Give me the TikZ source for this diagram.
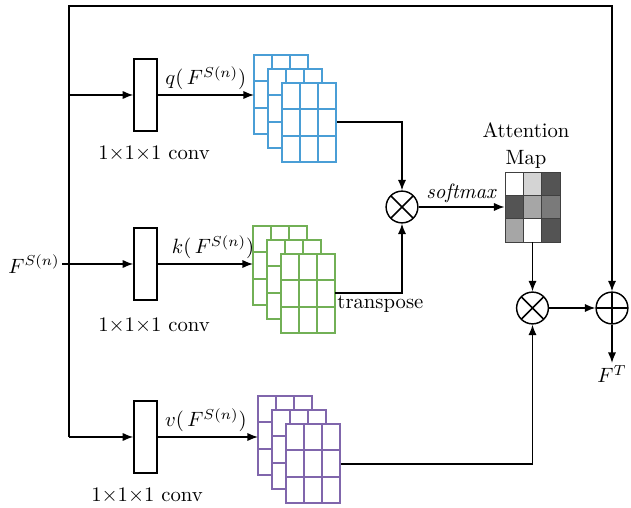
\documentclass[tikz,border=0pt]{standalone}
\usetikzlibrary{positioning,arrows.meta}

\definecolor{qblue}{RGB}{74,158,214}
\definecolor{kgreen}{RGB}{114,176,86}
\definecolor{vpurple}{RGB}{128,102,172}

\tikzset{
  line/.style={line width=0.7pt},
  flow/.style={line width=0.7pt,-{Latex[length=1.8mm,width=1.4mm]}},
  conv/.style={draw,line width=0.7pt,minimum width=0.39cm,minimum height=1.22cm,inner sep=0pt},
  mulnode/.style={draw,circle,line width=0.7pt,minimum size=0.54cm,inner sep=0pt,
    path picture={\draw[line width=0.7pt]
      (path picture bounding box.north west)--(path picture bounding box.south east)
      (path picture bounding box.north east)--(path picture bounding box.south west);}},
  addnode/.style={draw,circle,line width=0.7pt,minimum size=0.54cm,inner sep=0pt,
    path picture={\draw[line width=0.7pt]
      (path picture bounding box.north)--(path picture bounding box.south)
      (path picture bounding box.west)--(path picture bounding box.east);}},
  amapbox/.style={draw=black!75,minimum width=0.935cm,minimum height=1.19cm,inner sep=0pt},
  sheet/.style={line width=0.9pt}
}

% three stacked 3x3 feature sheets: #1,#2 top left corner, #3 colour
\newcommand{\featstack}[3]{
  \foreach \s in {0,1,2}{
    \fill[white] (#1+14*\s,#2+14*\s) rectangle ++(54,79);
    \draw[sheet,#3] (#1+14*\s,#2+14*\s) rectangle ++(54,79);
    \foreach \c in {1,2}
      \draw[sheet,#3] (#1+14*\s+18*\c,#2+14*\s) --++ (0,79);
    \foreach \r in {1,2}
      \draw[sheet,#3] (#1+14*\s,#2+14*\s+26.33*\r) --++ (54,0);
  }
}

\begin{document}
\begin{tikzpicture}[x=0.017cm,y=-0.017cm]
  \useasboundingbox (0,0) rectangle (631,508);

  %conv blocks
  \node[conv] (convq) at (145.5,95) {};
  \node[conv] (convk) at (145.5,264) {};
  \node[conv] (convv) at (145.5,437) {};
  \node (convqlbl) at (154,153) {1$\times$1$\times$1 conv};
  \node (convklbl) at (154,325) {1$\times$1$\times$1 conv};
  \node (convvlbl) at (147,495) {1$\times$1$\times$1 conv};

  %input and skip line
  \node[inner sep=1pt] (fin) at (34,264) {$F^{S(n)}$};
  \coordinate (tl) at (69,6);
  \draw[flow] (fin.east) -- (convk.west);
  \draw[flow] (convq.west -| tl) -- (convq.west);
  \draw[flow] (convv.west -| tl) -- (convv.west);

  %feature stacks
  \featstack{254}{55}{qblue}
  \featstack{253}{226}{kgreen}
  \featstack{258}{396}{vpurple}
  \coordinate (qin) at (254,95);
  \coordinate (kin) at (253,264);
  \coordinate (vin) at (258,437);
  \coordinate (qout) at (337,122);
  \coordinate (kout) at (335,293);
  \coordinate (vout) at (341,464);

  \draw[flow] (convq.east) -- node[above,inner sep=2pt] (qlbl) {$q(\,F^{S(n)})$} (qin);
  \draw[flow] (convk.east) -- node[above,inner sep=2pt,pos=0.58] (klbl) {$k(\,F^{S(n)})$} (kin);
  \draw[flow] (convv.east) -- node[above,inner sep=2pt,pos=0.48] (vlbl) {$v(\,F^{S(n)})$} (vin);

  %attention
  \node[mulnode] (mulqk) at (402,207) {};
  \node[amapbox] (amap) at (532.5,207) {};
  \foreach \r/\c/\g in {0/0/0,0/1/17,0/2/67,1/0/67,1/1/35,1/2/52,2/0/35,2/1/0,2/2/67}
    \filldraw[fill=black!\g,draw=black!75,line width=0.4pt]
      (505+18.33*\c,172+23.33*\r) rectangle ++(18.33,23.33);
  \node[align=center] (amaplbl) at (526,146) {Attention\\[1pt]Map};

  \draw[flow] (qout) -| (mulqk.north);
  \draw[flow] (kout) -| (mulqk.south);
  \node[below right,inner sep=1pt] (tlbl) at (kout) {transpose};
  \draw[flow] (mulqk.east) -- node[above,inner sep=1.5pt] (smlbl) {\textit{softmax}} (amap.west);

  %output
  \node[mulnode] (mulav) at (532.5,308) {};
  \node[addnode] (addout) at (612,308) {};
  \coordinate (outend) at (612,363);
  \draw[flow] (amap.south) -- (mulav.north);
  \draw[flow] (vout) -| (mulav.south);
  \draw[flow] (mulav.east) -- (addout.west);
  \draw[flow] (convv.west -| tl) -- (tl) -| (addout.north);
  \draw[flow] (addout.south) -- (outend);
  \node[below,inner sep=1pt] (fout) at (outend) {$F^{T}$};
\end{tikzpicture}
\end{document}
